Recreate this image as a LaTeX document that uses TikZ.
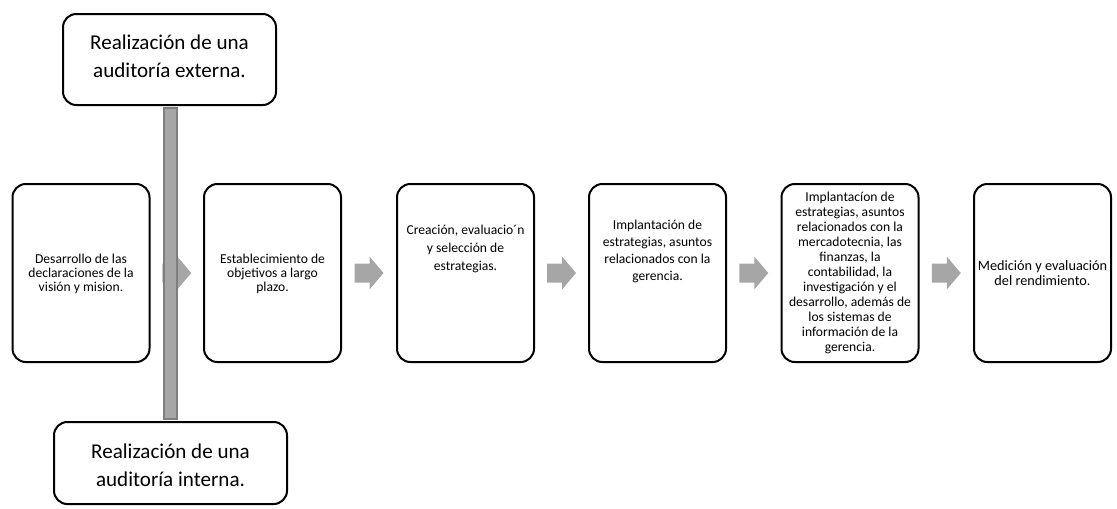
\documentclass[tikz,border=0pt]{standalone}
\usepackage{fontspec}
\setmainfont{Carlito}
\usetikzlibrary{positioning,calc}
\definecolor{arrowgray}{HTML}{A6A6A6}
\definecolor{bargray}{HTML}{7F7F7F}
\tikzset{
  stagebox/.style={draw=black,line width=1.5pt,rounded corners=10pt,
    minimum width=102.75pt,minimum height=133.5pt,inner sep=2pt},
  stagetext/.style={align=center,inner sep=0pt},
  auditbox/.style={draw=black,line width=1.5pt,rounded corners=10pt,
    inner sep=2pt},
  audittext/.style={align=center,inner sep=0pt,
    font=\fontsize{15.8}{20.8}\selectfont},
  stagearrow/.style={fill=arrowgray,draw=none},
  auditbar/.style={fill=arrowgray,draw=bargray,line width=1.5pt},
}

\begin{document}
\begin{tikzpicture}[x=0.75pt,y=-0.75pt]
  \useasboundingbox (0,0) rectangle (1117,508);
  % audits
  \node[auditbox,minimum width=159.75pt,minimum height=68.25pt] (ext) at (169.5,59.5) {};
  \node[audittext] (extt) at ([yshift=2.25pt]ext.center)
    {Realización de una\\auditoría externa.};
  \node[auditbox,minimum width=174.75pt,minimum height=61.5pt] (int) at (170.5,463) {};
  \node[audittext] (intt) at ([yshift=-1.5pt]int.center)
    {Realización de una\\auditoría interna.};
  % stages
  \node[stagebox] (s1) at (81,273) {};
  \node[stagebox] (s2) at (272.5,273) {};
  \node[stagebox] (s3) at (465.5,273) {};
  \node[stagebox] (s4) at (657.5,273) {};
  \node[stagebox] (s5) at (850,273) {};
  \node[stagebox] (s6) at (1042.5,273) {};
  \node[stagetext,font=\fontsize{10.2}{10.5}\selectfont] (t1) at ([yshift=-1pt]s1.center)
    {Desarrollo de las\\declaraciones de la\\visión y mision.};
  \node[stagetext,font=\fontsize{10.2}{10.5}\selectfont] (t2) at ([yshift=-1pt]s2.center)
    {Establecimiento de\\objetivos a largo\\plazo.};
  \node[stagetext,font=\fontsize{10.2}{13.5}\selectfont] (t3) at ([yshift=18pt]s3.center)
    {Creación, evaluacio´n\\y selección de\\estrategias.};
  \node[stagetext,font=\fontsize{10.2}{12.75}\selectfont] (t4) at ([yshift=16.5pt]s4.center)
    {Implantación de\\estrategias, asuntos\\relacionados con la\\gerencia.};
  \node[stagetext,font=\fontsize{10.2}{11.25}\selectfont] (t5) at (s5.center)
    {Implantacíon de\\estrategias, asuntos\\relacionados con la\\mercadotecnia, las\\finanzas, la\\contabilidad, la\\investigación y el\\desarrollo, además de\\los sistemas de\\información de la\\gerencia.};
  \node[stagetext,font=\fontsize{10.7}{11.25}\selectfont] (t6) at (s6.center)
    {Medición y evaluación\\del rendimiento.};
  % block arrows
  \foreach \a/\b in {s1/s2,s2/s3,s3/s4,s4/s5,s5/s6}{
    \coordinate (\a\b) at ($(\a.east)!0.5!(\b.west)$);
    \fill[stagearrow,shift={(\a\b)}] (-14.5,-9.5) -- (0.5,-9.5) -- (0.5,-16.5)
      -- (14.5,0) -- (0.5,16.5) -- (0.5,9.5) -- (-14.5,9.5) -- cycle;
  }
  % bar between the audits
  \draw[auditbar] ([xshift=-4.5pt,yshift=-1.5pt]ext.south) rectangle
    ([xshift=4.5pt,yshift=1.5pt]int.north);
\end{tikzpicture}
\end{document}
